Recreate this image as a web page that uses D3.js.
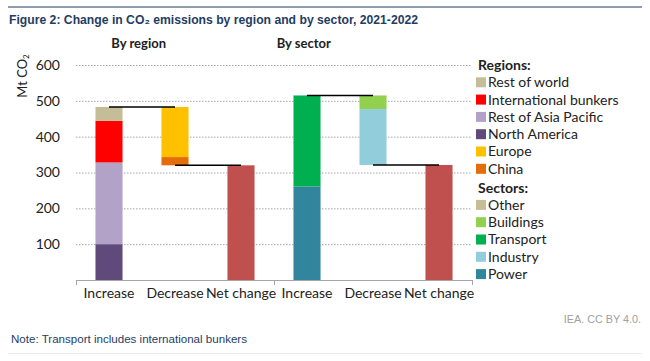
<!DOCTYPE html>
<meta charset="utf-8">
<script src="https://d3js.org/d3.v7.min.js"></script>
<style>
body { margin: 0; background: white; }
svg text { font-family: Lato, "Open Sans", sans-serif; }
.grid line { stroke: #a6a6a6; stroke-dasharray: 1.5,1.5; }
.grid path { display: none; }
</style>
<body>
<svg id="svg" width="650" height="361"></svg>
<script>
// categories on the x axis
var groups = ["By region", "By sector"];
var steps = ["Increase", "Decrease", "Net change"];

// by region (Mt CO2)
var regionUpKeys = ["North America", "Rest of Asia Pacific", "International bunkers", "Rest of world"];
var regionUpVals = [100, 228, 116, 39];
var regionDownKeys = ["Europe", "China"];
var regionDownVals = [140, 23];

// by sector (Mt CO2)
var sectorUpKeys = ["Power", "Transport", "Other"];
var sectorUpVals = [261, 254, 0];
var sectorDownKeys = ["Buildings", "Industry"];
var sectorDownVals = [38, 156];

var yTicks = [100, 200, 300, 400, 500, 600];

var regionLegend = ["Rest of world", "International bunkers", "Rest of Asia Pacific", "North America", "Europe", "China"];
var sectorLegend = ["Other", "Buildings", "Transport", "Industry", "Power"];

var colors = {
    "Rest of world": "#c4bd97",
    "International bunkers": "#ff0000",
    "Rest of Asia Pacific": "#b3a2c7",
    "North America": "#604a7b",
    "Europe": "#ffc000",
    "China": "#e46c0a",
    "Other": "#c4bd97",
    "Buildings": "#92d050",
    "Transport": "#00b050",
    "Industry": "#92cddc",
    "Power": "#31859c",
    "Net change": "#c0504d"
};

// build waterfall segments
function waterfall(group, upKeys, upVals, downKeys, downVals) {
    var segs = [];
    var top = 0;
    upKeys.forEach(function(k, i) {
        segs.push({cat: group + "|Increase", key: k, y0: top, y1: top + upVals[i]});
        top += upVals[i];
    });
    var peak = top;
    downKeys.forEach(function(k, i) {
        segs.push({cat: group + "|Decrease", key: k, y0: top - downVals[i], y1: top});
        top -= downVals[i];
    });
    segs.push({cat: group + "|Net change", key: "Net change", y0: 0, y1: top});
    return {segs: segs, links: [
        {from: group + "|Increase", to: group + "|Decrease", v: peak},
        {from: group + "|Decrease", to: group + "|Net change", v: top}
    ]};
}

var region = waterfall("By region", regionUpKeys, regionUpVals, regionDownKeys, regionDownVals);
var sector = waterfall("By sector", sectorUpKeys, sectorUpVals, sectorDownKeys, sectorDownVals);
var segs = region.segs.concat(sector.segs);
var links = region.links.concat(sector.links);

var cats = [];
groups.forEach(function(g) { steps.forEach(function(s) { cats.push(g + "|" + s); }); });

let svg = d3.select("#svg");
let margin = { top: 65, left: 76, right: 178, bottom: 81 };
let width = 650 - margin.left - margin.right;
let height = 361 - margin.top - margin.bottom;

// header line and title
svg.append("line")
    .attr("x1", 8).attr("x2", 642).attr("y1", 7).attr("y2", 7)
    .attr("stroke", "#1f3d63").attr("stroke-width", 1);
svg.append("text")
    .attr("x", 9).attr("y", 24)
    .style("font-family", "'Liberation Sans', Arial, sans-serif")
    .style("font-size", "12.5px").style("font-weight", "bold")
    .attr("fill", "#1f3d63")
    .attr("textLength", 409).attr("lengthAdjust", "spacingAndGlyphs")
    .text("Figure 2: Change in CO\u2082 emissions by region and by sector, 2021-2022");

let g = svg.append("g")
    .attr("transform", "translate(" + margin.left + "," + margin.top + ")");

let x = d3.scaleBand().domain(cats).range([0, width]).paddingInner(0.59).paddingOuter(0.295);
let y = d3.scaleLinear().domain([0, 600]).range([height, 0]);

g.append("g")
    .attr("class", "grid")
    .call(d3.axisLeft(y).tickValues(yTicks).tickSize(-width).tickFormat(""));

// y tick labels
g.append("g").selectAll("text")
    .data(yTicks)
    .enter().append("text")
    .attr("x", -16)
    .attr("y", function(d) { return y(d); })
    .attr("dy", "0.35em")
    .attr("text-anchor", "end")
    .style("font-size", "14px")
    .attr("fill", "#222")
    .text(function(d) { return d; });

svg.append("text")
    .attr("transform", "translate(27,76) rotate(-90)")
    .attr("text-anchor", "middle")
    .style("font-size", "13px")
    .attr("fill", "#222")
    .html("Mt CO<tspan font-size='8px' dy='2'>2</tspan>");

// bars
g.append("g").selectAll("rect")
    .data(segs)
    .enter().append("rect")
    .attr("x", function(d) { return x(d.cat); })
    .attr("width", x.bandwidth())
    .attr("y", function(d) { return y(d.y1); })
    .attr("height", function(d) { return y(d.y0) - y(d.y1); })
    .attr("fill", function(d) { return colors[d.key]; });

// connector lines
g.append("g").selectAll("line")
    .data(links)
    .enter().append("line")
    .attr("x1", function(d) { return x(d.from) + x.bandwidth() / 2; })
    .attr("x2", function(d) { return x(d.to) + x.bandwidth() / 2; })
    .attr("y1", function(d) { return y(d.v); })
    .attr("y2", function(d) { return y(d.v); })
    .attr("stroke", "#000").attr("stroke-width", 1.5);

// x axis
g.append("line")
    .attr("x1", 0).attr("x2", width).attr("y1", height + 0.5).attr("y2", height + 0.5)
    .attr("stroke", "#a6a6a6");
var seps = [cats[0], cats[3]].map(function(c) { return x(c) - x.step() * x.paddingOuter(); }).concat([width]);
g.append("g").selectAll("line")
    .data(seps)
    .enter().append("line")
    .attr("x1", function(d) { return d + 0.5; }).attr("x2", function(d) { return d + 0.5; })
    .attr("y1", height).attr("y2", height + 5)
    .attr("stroke", "#a6a6a6");

g.append("g").selectAll("text")
    .data(cats)
    .enter().append("text")
    .attr("x", function(d) { return x(d) + x.bandwidth() / 2; })
    .attr("y", height + 18)
    .attr("text-anchor", "middle")
    .style("font-size", "14px")
    .attr("fill", "#222")
    .text(function(d) { return d.split("|")[1]; });

// group titles
var titleShift = [0.45, -0.05];
g.append("g").selectAll("text")
    .data(groups)
    .enter().append("text")
    .attr("x", function(d, i) { return x(d + "|Increase") + x.bandwidth() / 2 + x.step() * titleShift[i]; })
    .attr("y", -17)
    .attr("text-anchor", "middle")
    .style("font-size", "13px").style("font-weight", "bold")
    .attr("fill", "#222")
    .text(function(d) { return d; });

// legend
var legendRows = [{t: "Regions:", head: true}]
    .concat(regionLegend.map(function(k) { return {t: k}; }))
    .concat([{t: "Sectors:", head: true}])
    .concat(sectorLegend.map(function(k) { return {t: k}; }));

var legend = svg.append("g")
    .attr("transform", "translate(476,65)")
    .selectAll("g")
    .data(legendRows)
    .enter().append("g")
    .attr("transform", function(d, i) { return "translate(0," + (i * 17.3 + (i > 6 ? 1.5 : 0)) + ")"; });

legend.filter(function(d) { return !d.head; }).append("rect")
    .attr("x", 0).attr("y", -5)
    .attr("width", 10).attr("height", 10)
    .attr("fill", function(d) { return colors[d.t]; });

legend.append("text")
    .attr("x", function(d) { return d.head ? 2 : 12; })
    .attr("dy", "0.35em")
    .style("font-size", "14px")
    .style("font-weight", function(d) { return d.head ? "bold" : "normal"; })
    .attr("fill", "#222")
    .text(function(d) { return d.t; });

// footer
svg.append("text")
    .attr("x", 641).attr("y", 323)
    .attr("text-anchor", "end")
    .style("font-family", "'Liberation Sans', Arial, sans-serif")
    .style("font-size", "10.8px")
    .attr("fill", "#a0a0a0")
    .text("IEA. CC BY 4.0.");
svg.append("text")
    .attr("x", 11).attr("y", 343)
    .style("font-family", "'Liberation Sans', Arial, sans-serif")
    .style("font-size", "11px")
    .attr("fill", "#1f3d63")
    .attr("textLength", 236).attr("lengthAdjust", "spacingAndGlyphs")
    .text("Note: Transport includes international bunkers");
svg.append("line")
    .attr("x1", 8).attr("x2", 642).attr("y1", 353.5).attr("y2", 353.5)
    .attr("stroke", "#ececec");
</script>
</body>
